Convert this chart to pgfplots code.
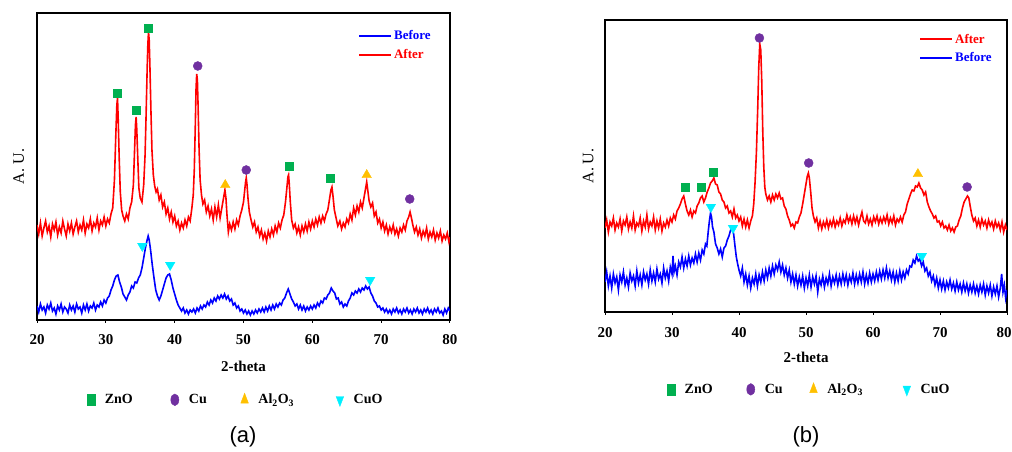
\documentclass[border=0pt]{standalone}
\usepackage{pgfplots}
\pgfplotsset{compat=1.18}
\usepackage{pgfplotstable}
\usepackage{fontspec}
\setmainfont{Liberation Serif}
\newfontfamily\sansf{Liberation Sans}
\definecolor{zno}{HTML}{00B050}
\definecolor{cuc}{HTML}{7030A0}
\definecolor{alc}{HTML}{FFC000}
\definecolor{cuoc}{HTML}{00F0FF}

\pgfplotstableread{
x y
20.00 95
20.25 86
20.50 97
20.75 84
21.00 92
21.25 99
21.50 88
21.75 94
22.00 83
22.25 96
22.50 90
22.75 98
23.00 85
23.25 93
23.50 87
23.75 99
24.00 91
24.25 84
24.50 96
24.75 89
25.00 97
25.25 86
25.50 93
25.75 99
26.00 88
26.25 95
26.50 90
26.75 100
27.00 87
27.25 96
27.50 92
27.75 101
28.00 89
28.25 97
28.50 93
28.75 102
29.00 90
29.25 99
29.50 95
29.75 103
30.00 94
30.25 101
30.50 97
30.75 106
31.00 112
31.25 140
31.45 185
31.60 215
31.70 222
31.80 200
31.95 160
32.10 128
32.30 110
32.50 104
32.75 99
33.00 106
33.25 101
33.50 112
33.75 118
34.00 135
34.15 165
34.30 195
34.40 203
34.50 190
34.65 160
34.80 132
35.00 122
35.25 118
35.50 135
35.70 165
35.85 205
36.00 250
36.10 275
36.20 288
36.30 280
36.40 255
36.55 210
36.70 170
36.90 145
37.10 134
37.30 128
37.50 131
37.75 120
38.00 125
38.25 113
38.50 118
38.75 106
39.00 112
39.25 101
39.50 108
39.75 98
40.00 104
40.25 94
40.50 99
40.75 90
41.00 97
41.25 92
41.50 100
41.75 94
42.00 103
42.25 99
42.50 112
42.70 125
42.85 150
43.00 195
43.10 230
43.20 246
43.30 240
43.40 215
43.55 170
43.70 140
43.90 125
44.10 116
44.35 120
44.60 108
44.85 114
45.10 104
45.35 111
45.60 100
45.85 113
46.10 103
46.35 115
46.60 102
46.85 112
47.05 120
47.20 126
47.30 130
47.45 122
47.60 105
47.80 88
48.00 96
48.25 90
48.50 98
48.75 91
49.00 100
49.25 95
49.50 104
49.75 110
50.00 118
50.15 128
50.30 138
50.40 142
50.50 136
50.65 122
50.85 108
51.10 100
51.35 93
51.60 98
51.85 88
52.10 93
52.35 84
52.60 90
52.85 81
53.10 87
53.35 79
53.60 89
53.85 83
54.10 91
54.35 85
54.60 94
54.85 88
55.10 97
55.35 92
55.60 100
55.85 105
56.10 118
56.30 132
56.45 143
56.55 145
56.65 136
56.80 118
57.00 100
57.25 92
57.50 96
57.75 87
58.00 93
58.25 85
58.50 94
58.75 88
59.00 96
59.25 89
59.50 98
59.75 91
60.00 99
60.25 93
60.50 101
60.75 95
61.00 103
61.25 97
61.50 104
61.75 99
62.00 106
62.25 110
62.50 121
62.70 130
62.85 133
63.00 124
63.20 110
63.45 102
63.70 94
64.00 99
64.25 91
64.50 97
64.75 93
65.00 101
65.25 97
65.50 106
65.75 100
66.00 112
66.25 105
66.50 114
66.75 108
67.00 118
67.25 112
67.50 122
67.75 132
67.90 138
68.05 130
68.25 119
68.50 113
68.75 117
69.00 104
69.25 108
69.50 97
69.75 101
70.00 92
70.25 98
70.50 89
70.75 95
71.00 86
71.25 93
71.50 88
71.75 95
72.00 86
72.25 91
72.50 84
72.75 92
73.00 88
73.25 95
73.50 90
73.75 99
74.00 103
74.20 108
74.40 102
74.60 95
74.85 88
75.10 93
75.35 85
75.60 91
75.85 82
76.10 89
76.35 84
76.60 92
76.85 81
77.10 88
77.35 83
77.60 90
77.85 80
78.10 87
78.35 82
78.60 89
78.85 79
79.10 85
79.35 81
79.60 87
79.85 78
80.00 83
}\redA

\pgfplotstableread{
x y
20.00 14
20.25 8
20.50 16
20.75 10
21.00 13
21.25 7
21.50 15
21.75 11
22.00 17
22.25 9
22.50 12
22.75 6
23.00 14
23.25 10
23.50 16
23.75 8
24.00 13
24.25 11
24.50 7
24.75 15
25.00 10
25.25 14
25.50 8
25.75 16
26.00 11
26.25 13
26.50 7
26.75 15
27.00 10
27.25 16
27.50 9
27.75 14
28.00 12
28.25 17
28.50 10
28.75 15
29.00 13
29.25 18
29.50 14
29.75 20
30.00 17
30.25 22
30.50 24
30.75 30
31.00 34
31.25 40
31.50 44
31.75 45
32.00 38
32.25 33
32.50 26
32.75 23
33.00 20
33.25 25
33.50 28
33.75 34
34.00 32
34.25 38
34.50 37
34.75 42
35.00 45
35.25 52
35.50 62
35.75 72
36.00 80
36.15 84
36.30 80
36.50 70
36.75 55
37.00 42
37.25 30
37.50 24
37.75 20
38.00 24
38.25 30
38.50 36
38.75 42
39.00 45
39.25 46
39.50 40
39.75 32
40.00 26
40.25 20
40.50 15
40.75 12
41.00 9
41.25 12
41.50 7
41.75 10
42.00 6
42.25 10
42.50 8
42.75 11
43.00 7
43.25 12
43.50 9
43.75 14
44.00 11
44.25 15
44.50 13
44.75 18
45.00 15
45.25 20
45.50 17
45.75 22
46.00 19
46.25 24
46.50 21
46.75 25
47.00 22
47.25 26
47.50 21
47.75 24
48.00 19
48.25 21
48.50 15
48.75 17
49.00 12
49.25 14
49.50 9
49.75 11
50.00 7
50.25 10
50.50 6
50.75 9
51.00 5
51.25 9
51.50 6
51.75 10
52.00 7
52.25 11
52.50 8
52.75 12
53.00 8
53.25 13
53.50 9
53.75 14
54.00 10
54.25 15
54.50 11
54.75 16
55.00 13
55.25 17
55.50 15
55.75 20
56.00 22
56.25 27
56.50 31
56.75 26
57.00 21
57.25 18
57.50 14
57.75 16
58.00 11
58.25 15
58.50 10
58.75 14
59.00 9
59.25 13
59.50 10
59.75 14
60.00 11
60.25 15
60.50 12
60.75 17
61.00 14
61.25 19
61.50 17
61.75 22
62.00 21
62.25 25
62.50 27
62.75 32
63.00 29
63.25 27
63.50 21
63.75 22
64.00 16
64.25 18
64.50 13
64.75 16
65.00 14
65.25 19
65.50 22
65.75 27
66.00 25
66.25 29
66.50 27
66.75 31
67.00 28
67.25 32
67.50 30
67.75 34
68.00 31
68.25 33
68.50 27
68.75 24
69.00 19
69.25 17
69.50 13
69.75 14
70.00 10
70.25 12
70.50 8
70.75 11
71.00 7
71.25 10
71.50 6
71.75 11
72.00 8
72.25 12
72.50 7
72.75 10
73.00 6
73.25 11
73.50 8
73.75 12
74.00 7
74.25 10
74.50 6
74.75 11
75.00 8
75.25 12
75.50 7
75.75 10
76.00 6
76.25 11
76.50 8
76.75 12
77.00 7
77.25 10
77.50 6
77.75 11
78.00 8
78.25 12
78.50 7
78.75 9
79.00 5
79.25 11
79.50 7
79.75 12
80.00 9
}\blueA

\pgfplotstableread{
x y
20.00 84
20.25 92
20.50 80
20.75 90
21.00 86
21.25 94
21.50 82
21.75 89
22.00 85
22.25 93
22.50 81
22.75 91
23.00 87
23.25 95
23.50 83
23.75 90
24.00 84
24.25 96
24.50 82
24.75 89
25.00 86
25.25 94
25.50 81
25.75 91
26.00 85
26.25 97
26.50 83
26.75 90
27.00 86
27.25 95
27.50 82
27.75 91
28.00 84
28.25 93
28.50 81
28.75 89
29.00 85
29.25 92
29.50 86
29.75 94
30.00 90
30.25 97
30.50 93
30.75 101
31.00 104
31.25 108
31.50 113
31.75 116
32.00 108
32.25 101
32.50 97
32.75 102
33.00 95
33.25 101
33.50 99
33.75 106
34.00 109
34.25 114
34.50 116
34.75 110
35.00 114
35.25 120
35.50 124
35.75 129
36.00 131
36.25 134
36.50 128
36.75 127
37.00 120
37.25 118
37.50 112
37.75 110
38.00 104
38.25 106
38.50 99
38.75 101
39.00 95
39.25 103
39.50 94
39.75 97
40.00 91
40.25 95
40.50 86
40.75 93
41.00 85
41.25 92
41.50 84
41.75 91
42.00 96
42.20 108
42.40 130
42.60 160
42.80 205
42.95 245
43.10 268
43.25 262
43.40 230
43.55 180
43.70 145
43.85 125
44.00 118
44.25 112
44.50 116
44.75 110
45.00 117
45.25 112
45.50 118
45.75 114
46.00 119
46.25 113
46.50 114
46.75 106
47.00 103
47.25 96
47.50 92
47.75 86
48.00 88
48.25 84
48.50 90
48.75 89
49.00 95
49.25 99
49.50 108
49.75 118
50.00 128
50.20 136
50.35 139
50.50 134
50.70 120
50.90 104
51.10 96
51.35 90
51.60 94
51.85 84
52.10 91
52.35 83
52.60 90
52.85 85
53.10 92
53.35 84
53.60 91
53.85 86
54.10 93
54.35 85
54.60 91
54.85 87
55.10 94
55.35 86
55.60 92
55.85 89
56.10 97
56.35 90
56.60 95
56.85 88
57.10 96
57.35 89
57.60 95
57.85 87
58.10 94
58.35 100
58.60 91
58.85 89
59.10 96
59.35 88
59.60 93
59.85 87
60.10 95
60.35 90
60.60 96
60.85 88
61.10 94
61.35 89
61.60 95
61.85 90
62.10 97
62.35 88
62.60 94
62.85 89
63.10 96
63.35 87
63.60 93
63.85 90
64.10 95
64.35 90
64.60 97
64.85 100
65.10 108
65.35 113
65.60 118
65.85 122
66.10 121
66.35 126
66.60 125
66.85 129
67.10 124
67.35 122
67.60 117
67.85 120
68.10 110
68.35 105
68.60 101
68.85 98
69.10 94
69.35 96
69.60 90
69.85 91
70.10 86
70.35 90
70.60 84
70.85 86
71.10 82
71.35 87
71.60 81
71.85 84
72.10 80
72.35 85
72.60 86
72.85 92
73.10 96
73.35 104
73.60 110
73.85 113
74.10 116
74.30 114
74.50 106
74.75 97
75.00 91
75.25 94
75.50 86
75.75 92
76.00 85
76.25 93
76.50 87
76.75 91
77.00 84
77.25 92
77.50 86
77.75 90
78.00 83
78.25 91
78.50 85
78.75 89
79.00 82
79.25 90
79.50 80
79.75 87
80.00 82
}\redB

\pgfplotstableread{
x y
20.00 30
20.25 40
20.50 26
20.75 36
21.00 24
21.25 38
21.50 29
21.75 35
22.00 22
22.25 37
22.50 30
22.75 40
23.00 27
23.25 34
23.50 25
23.75 39
24.00 31
24.25 36
24.50 26
24.75 41
25.00 29
25.25 37
25.50 27
25.75 40
26.00 32
26.25 38
26.50 28
26.75 42
27.00 31
27.25 39
27.50 30
27.75 43
28.00 33
28.25 38
28.50 29
28.75 44
29.00 34
29.25 41
29.50 31
29.75 45
30.00 38
30.15 56
30.30 40
30.50 46
30.75 37
31.00 50
31.25 45
31.50 55
31.75 44
32.00 53
32.25 46
32.50 56
32.75 47
33.00 54
33.25 49
33.50 58
33.75 50
34.00 59
34.25 52
34.50 62
34.75 58
35.00 68
35.20 66
35.40 80
35.60 92
35.75 99
35.90 95
36.05 85
36.25 80
36.50 68
36.75 64
37.00 58
37.25 63
37.50 55
37.75 64
38.00 66
38.25 72
38.50 76
38.75 82
39.00 84
39.20 78
39.40 66
39.60 55
39.80 48
40.00 42
40.25 36
40.50 44
40.75 30
41.00 38
41.25 27
41.50 36
41.75 24
42.00 34
42.25 28
42.50 38
42.75 26
43.00 37
43.25 30
43.50 40
43.75 31
44.00 42
44.25 34
44.50 44
44.75 36
45.00 46
45.25 38
45.50 47
45.75 42
46.00 50
46.25 40
46.50 47
46.75 37
47.00 44
47.25 34
47.50 42
47.75 30
48.00 38
48.25 28
48.50 37
48.75 26
49.00 35
49.25 27
49.50 36
49.75 24
50.00 34
50.25 26
50.50 37
50.75 25
51.00 35
51.25 28
51.50 36
51.75 20
52.00 33
52.25 27
52.50 36
52.75 25
53.00 34
53.25 28
53.50 38
53.75 26
54.00 35
54.25 29
54.50 37
54.75 27
55.00 36
55.25 28
55.50 38
55.75 29
56.00 37
56.25 27
56.50 36
56.75 30
57.00 39
57.25 28
57.50 37
57.75 29
58.00 38
58.25 30
58.50 40
58.75 28
59.00 37
59.25 29
59.50 39
59.75 30
60.00 38
60.25 31
60.50 40
60.75 32
61.00 41
61.25 33
61.50 42
61.75 34
62.00 44
62.25 34
62.50 41
62.75 32
63.00 40
63.25 30
63.50 39
63.75 31
64.00 41
64.25 32
64.50 40
64.75 34
65.00 42
65.25 38
65.50 46
65.75 45
66.00 52
66.25 49
66.50 56
66.75 51
67.00 53
67.25 46
67.50 50
67.75 41
68.00 44
68.25 36
68.50 40
68.75 31
69.00 36
69.25 27
69.50 34
69.75 24
70.00 32
70.25 23
70.50 31
70.75 22
71.00 30
71.25 24
71.50 32
71.75 23
72.00 29
72.25 21
72.50 30
72.75 22
73.00 28
73.25 20
73.50 29
73.75 21
74.00 28
74.25 19
74.50 27
74.75 20
75.00 28
75.25 19
75.50 26
75.75 18
76.00 27
76.25 20
76.50 28
76.75 17
77.00 26
77.25 19
77.50 27
77.75 16
78.00 25
78.25 18
78.50 26
78.75 15
79.00 24
79.20 38
79.40 20
79.60 27
79.80 14
80.00 22
}\blueB

\pgfplotsset{
  xrd/.style={
    scale only axis,
    xmin=20, xmax=80, ymin=0,
    xtick={20,30,...,80},
    ytick=\empty,
    xtick pos=bottom,
    tick align=outside,
    major tick length=3pt,
    every tick/.style={black, line width=1pt},
    axis line style={line width=1.4pt},
    /pgf/number format/assume math mode=true,
    xticklabel style={font=\bfseries\fontsize{15}{15}\selectfont, anchor=center},
    xlabel={2-theta},
    ylabel={A. U.},
    legend cell align=left,
    legend image code/.code={\draw[line width=2pt] (0pt,0pt) -- (32pt,0pt);},
    legend style={draw=none, fill=none, font=\bfseries\fontsize{13}{13}\selectfont,
      row sep=4pt, inner sep=0pt},
  },
  keyax/.style={
    scale only axis, hide axis,
    xmin=0, xmax=1, ymin=0, ymax=1,
    legend columns=4,
    legend style={draw=none, fill=none, font=\bfseries\fontsize{14}{14}\selectfont, inner sep=0pt,
      /tikz/every odd column/.append style={column sep=8pt}},
  },
  zn/.style={only marks, mark=square*, color=zno, mark size=4pt},
  cu/.style={only marks, mark=*, color=cuc, mark size=4.5pt},
  al/.style={only marks, mark=triangle*, color=alc, mark size=5.5pt},
  cuo/.style={only marks, mark=triangle*, color=cuoc, mark size=5.5pt, mark options={rotate=180}},
}

\begin{document}
\begin{tikzpicture}
\path[use as bounding box] (0pt,0pt) rectangle (1012pt,452pt);

% ---------- panel (a) ----------
\begin{axis}[xrd,
  at={(37pt,132pt)}, anchor=south west,
  width=413pt, height=307pt, ymax=307,
  xticklabel style={yshift=-17pt},
  every axis x label/.style={at={(axis description cs:0.5,-0.150)}, anchor=center, font=\bfseries\fontsize{15}{15}\selectfont},
  every axis y label/.style={at={(axis description cs:-0.044,0.5)}, rotate=90, anchor=center, font=\fontsize{16}{16}\selectfont},
  legend style={at={(axis description cs:0.777,0.950)}, anchor=north west},
]
\addplot[blue, line width=1.6pt] table[x=x, y=y] {\blueA};
\addlegendentry{\textcolor{blue}{Before}}
\addplot[red, line width=1.6pt] table[x=x, y=y] {\redA};
\addlegendentry{\textcolor{red}{After}}
\addplot[zn, forget plot] coordinates {(31.65,227) (34.4,210) (36.15,292) (56.6,154) (62.6,142)};
\addplot[cu, forget plot] coordinates {(43.35,254) (50.4,150) (74.15,121)};
\addplot[al, forget plot] coordinates {(47.35,135) (67.9,145)};
\addplot[cuo, forget plot] coordinates {(35.3,74) (39.35,55) (68.4,40)};
\end{axis}

\begin{axis}[keyax,
  at={(37pt,132pt)}, anchor=south west, width=413pt, height=307pt,
  legend style={at={(axis description cs:0.122,-0.26)}, anchor=west,
    /tikz/column 2/.append style={column sep=36pt},
    /tikz/column 4/.append style={column sep=32pt},
    /tikz/column 6/.append style={column sep=40pt}},
]
\addlegendimage{zn, mark options={yscale=1.4, xscale=0.9}}
\addlegendentry{ZnO}
\addlegendimage{cu, mark options={yscale=1.3, xscale=0.9}}
\addlegendentry{Cu}
\addlegendimage{al, mark options={yscale=1.2, xscale=0.8}}
\addlegendentry{Al\textsubscript{2}O\textsubscript{3}}
\addlegendimage{cuo, mark options={rotate=180, yscale=1.2, xscale=0.8}}
\addlegendentry{CuO}
\end{axis}

\node[font=\sansf\fontsize{22}{22}\selectfont] at (243pt,15pt) {(a)};

% ---------- panel (b) ----------
\begin{axis}[xrd,
  at={(605pt,140pt)}, anchor=south west,
  width=402pt, height=292pt, ymax=292,
  xticklabels={20,30,40,50,60,70,80\kern6pt},
  xticklabel style={yshift=-18pt},
  every axis x label/.style={at={(axis description cs:0.5,-0.154)}, anchor=center, font=\bfseries\fontsize{15}{15}\selectfont},
  every axis y label/.style={at={(axis description cs:-0.042,0.5)}, rotate=90, anchor=center, font=\fontsize{16}{16}\selectfont},
  legend style={at={(axis description cs:0.781,0.96)}, anchor=north west},
]
\addplot[red, line width=1.6pt] table[x=x, y=y] {\redB};
\addlegendentry{\textcolor{red}{After}}
\addplot[blue, line width=1.6pt] table[x=x, y=y] {\blueB};
\addlegendentry{\textcolor{blue}{Before}}
\addplot[zn, forget plot] coordinates {(31.9,125) (34.3,125) (36.1,140)};
\addplot[cu, forget plot] coordinates {(43.05,274) (50.4,149) (74.05,125)};
\addplot[al, forget plot] coordinates {(66.7,138)};
\addplot[cuo, forget plot] coordinates {(35.8,105) (39.1,84) (67.3,56)};
\end{axis}

\begin{axis}[keyax,
  at={(605pt,140pt)}, anchor=south west, width=402pt, height=292pt,
  legend style={at={(axis description cs:0.155,-0.265)}, anchor=west,
    /tikz/column 2/.append style={column sep=32pt},
    /tikz/column 4/.append style={column sep=25pt},
    /tikz/column 6/.append style={column sep=38pt}},
]
\addlegendimage{zn, mark options={yscale=1.4, xscale=0.9}}
\addlegendentry{ZnO}
\addlegendimage{cu, mark options={yscale=1.3, xscale=0.9}}
\addlegendentry{Cu}
\addlegendimage{al, mark options={yscale=1.2, xscale=0.8}}
\addlegendentry{Al\textsubscript{2}O\textsubscript{3}}
\addlegendimage{cuo, mark options={rotate=180, yscale=1.2, xscale=0.8}}
\addlegendentry{CuO}
\end{axis}

\node[font=\sansf\fontsize{22}{22}\selectfont] at (806pt,15pt) {(b)};
\end{tikzpicture}
\end{document}
